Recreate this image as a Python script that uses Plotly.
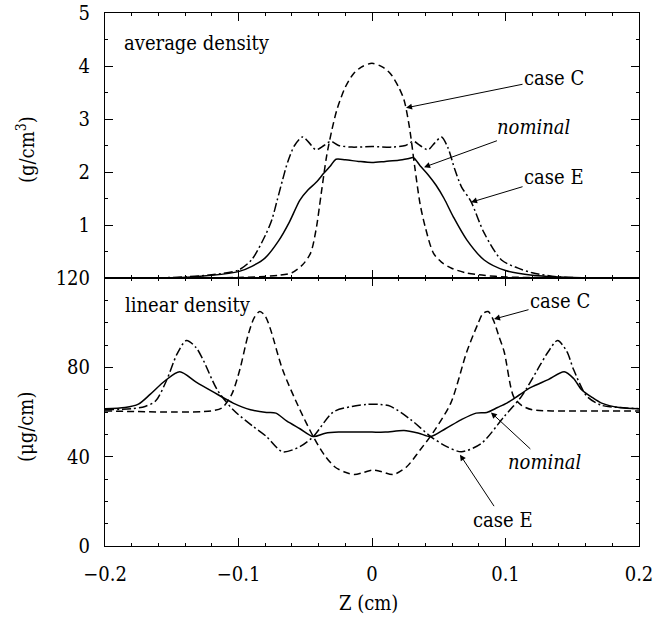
import plotly.graph_objects as go

# ---------------- data ----------------
# top panel: average density (g/cm^3)
avg_C_x = [-0.2, -0.15, -0.1, -0.08, -0.07, -0.06, -0.052, -0.046, -0.042, -0.038, -0.034, -0.03, -0.026, -0.02,
           -0.014, -0.008, 0, 0.008, 0.014, 0.02, 0.024, 0.028, 0.032, 0.036, 0.04, 0.046, 0.052, 0.06, 0.07, 0.08,
           0.1, 0.15, 0.2]
avg_C_y = [0, 0, 0.01, 0.03, 0.05, 0.1, 0.25, 0.47, 0.9, 1.6, 2.3, 2.8, 3.2, 3.6,
           3.85, 3.98, 4.05, 3.98, 3.85, 3.6, 3.36, 2.85, 2.1, 1.4, 0.95, 0.47, 0.3, 0.18, 0.1, 0.06,
           0.02, 0, 0]

avg_nom_x = [-0.2, -0.15, -0.12, -0.1, -0.09, -0.08, -0.07, -0.062, -0.054, -0.048, -0.042, -0.036, -0.031, -0.027,
             -0.02, -0.01, 0, 0.01, 0.02, 0.027, 0.031, 0.036, 0.042, 0.048, 0.054, 0.061, 0.071, 0.084, 0.1, 0.12,
             0.15, 0.2]
avg_nom_y = [0, 0.0, 0.05, 0.12, 0.22, 0.38, 0.7, 1.05, 1.47, 1.66, 1.8, 1.98, 2.12, 2.24,
             2.23, 2.2, 2.18, 2.2, 2.22, 2.25, 2.27, 2.12, 1.95, 1.75, 1.5, 1.15, 0.72, 0.34, 0.14, 0.05,
             0.01, 0]

avg_E_x = [-0.2, -0.15, -0.12, -0.1, -0.09, -0.08, -0.075, -0.071, -0.067, -0.063, -0.058, -0.052, -0.047, -0.042,
           -0.036, -0.031, -0.025, -0.015, 0, 0.015, 0.025, 0.031, 0.036, 0.042, 0.047, 0.052, 0.057, 0.062, 0.067,
           0.074, 0.084, 0.097, 0.109, 0.12, 0.14, 0.2]
avg_E_y = [0, 0.01, 0.06, 0.15, 0.35, 0.8, 1.1, 1.47, 1.85, 2.2, 2.5, 2.66, 2.55, 2.42,
           2.5, 2.58, 2.5, 2.47, 2.48, 2.47, 2.5, 2.58, 2.5, 2.42, 2.55, 2.66, 2.45, 2.05, 1.72,
           1.45, 0.85, 0.34, 0.19, 0.1, 0.02, 0]

# bottom panel: linear density (ug/cm)
lin_nom_x = [-0.2, -0.185, -0.175, -0.166, -0.155, -0.144, -0.132, -0.119, -0.104, -0.091, -0.079, -0.072, -0.064,
             -0.054, -0.044, -0.035, -0.025, -0.01, 0, 0.01, 0.024, 0.035, 0.044, 0.055, 0.067, 0.078, 0.086, 0.094,
             0.101, 0.11, 0.119, 0.132, 0.144, 0.151, 0.157, 0.165, 0.172, 0.185, 0.2]
lin_nom_y = [61.5, 62, 63.5, 68, 74, 78, 73.5, 69, 64, 61, 59.8, 59.5, 56,
             52.5, 49, 50.5, 51, 51, 51, 51, 51.7, 50.5, 49, 52.5, 56.6, 59.5, 59.8, 62,
             64, 67.5, 71, 74.5, 78, 75, 70, 66.5, 64, 62, 61.5]

lin_C_x = [-0.2, -0.15, -0.12, -0.112, -0.105, -0.099, -0.093, -0.088, -0.084, -0.08, -0.076, -0.067, -0.054,
           -0.044, -0.036, -0.028, -0.02, -0.013, -0.006, 0, 0.006, 0.016, 0.026, 0.036, 0.046, 0.059, 0.071,
           0.079, 0.083, 0.087, 0.091, 0.095, 0.099, 0.106, 0.112, 0.12, 0.135, 0.2]
lin_C_y = [60.5, 60, 60.5, 62, 68, 79, 94, 102.5, 105, 103, 97, 79, 61,
           49, 41, 35.5, 33, 32, 33, 34, 33.5, 32, 35.5, 43, 51, 64, 87,
           99, 104, 105, 101, 94, 87, 67, 63, 61, 60.5, 60.5]

lin_E_x = [-0.2, -0.18, -0.17, -0.162, -0.154, -0.146, -0.139, -0.132, -0.127, -0.116, -0.104, -0.089, -0.079,
           -0.067, -0.054, -0.044, -0.029, -0.015, -0.004, 0.006, 0.014, 0.029, 0.044, 0.056, 0.067, 0.082,
           0.099, 0.112, 0.124, 0.132, 0.139, 0.146, 0.151, 0.161, 0.172, 0.185, 0.2]
lin_E_y = [61, 61.5, 62.5, 65, 74, 86, 92, 89, 84, 70, 61, 53.5, 49,
           42.2, 44.5, 49, 60, 62.5, 63.4, 63.4, 62.5, 56.6, 49, 44.5, 42.2, 46,
           58, 67, 79, 87, 92, 87, 79, 67, 63, 62, 61.5]

x_ticks = [-0.2, -0.1, 0, 0.1, 0.2]
x_ticktext = ["\u22120.2", "\u22120.1", "0", "0.1", "0.2"]
top_ticks = [1, 2, 3, 4, 5]
bot_ticks = [0, 40, 80, 120]

# ---------------- styles ----------------
FONT = "'DejaVu Serif Condensed', 'DejaVu Serif', serif"
FS = 20
DASH = "7px,4px"
DASHDOT = "9px,3px,2px,3px"
LW = 1.5

fig = go.Figure()

def add(x, y, dash, xa, ya):
    fig.add_trace(go.Scatter(x=x, y=y, mode="lines", xaxis=xa, yaxis=ya,
                             line=dict(color="black", width=LW, dash=dash, shape="spline", smoothing=0.8),
                             showlegend=False, hoverinfo="skip"))

add(avg_C_x, avg_C_y, DASH, "x2", "y2")
add(avg_E_x, avg_E_y, DASHDOT, "x2", "y2")
add(avg_nom_x, avg_nom_y, "solid", "x2", "y2")
add(lin_C_x, lin_C_y, DASH, "x", "y")
add(lin_E_x, lin_E_y, DASHDOT, "x", "y")
add(lin_nom_x, lin_nom_y, "solid", "x", "y")

split = (546 - 278) / 533.0

axis_common = dict(showline=True, linecolor="black", linewidth=1, mirror="ticks",
                   ticks="inside", tickcolor="black", ticklen=8, tickwidth=1,
                   showgrid=False, zeroline=False, automargin=False,
                   tickfont=dict(family=FONT, size=FS, color="black"))

fig.update_layout(
    width=668, height=619,
    margin=dict(l=105, r=29, t=13, b=73, autoexpand=False),
    paper_bgcolor="white", plot_bgcolor="white",
    font=dict(family=FONT, size=FS, color="black"),
    xaxis=dict(**axis_common, domain=[0, 1], range=[-0.2, 0.2], anchor="y",
               tickvals=x_ticks, ticktext=x_ticktext, ticklabelstandoff=10,
               minor=dict(ticks="inside", ticklen=3, dtick=0.02, tick0=0, tickcolor="black")),
    xaxis2=dict(**axis_common, domain=[0, 1], range=[-0.2, 0.2], anchor="y2", matches="x",
                tickvals=x_ticks, showticklabels=False,
                minor=dict(ticks="inside", ticklen=3, dtick=0.02, tick0=0, tickcolor="black")),
    yaxis=dict(**axis_common, domain=[0, split], range=[0, 120], anchor="x",
               tickvals=bot_ticks, ticklabelstandoff=10,
               minor=dict(ticks="inside", ticklen=3, dtick=10, tick0=0, tickcolor="black")),
    yaxis2=dict(**axis_common, domain=[split, 1], range=[0, 5], anchor="x2",
                tickvals=top_ticks, ticklabelstandoff=10,
                minor=dict(ticks="inside", ticklen=3, dtick=0.5, tick0=0, tickcolor="black")),
)

def ann_text(text, x, y, xanchor="left", angle=0):
    fig.add_annotation(text=text, xref="paper", yref="paper", x=x, y=y, xanchor=xanchor,
                       yanchor="middle", showarrow=False, textangle=angle,
                       font=dict(family=FONT, size=FS, color="black"))

ann_text("average density", (122 - 105) / 534, (546 - 43) / 533)
ann_text("linear density", (123 - 105) / 534, (546 - 305) / 533)
ann_text("(g/cm<sup>3</sup>)", (26 - 105) / 534, (546 - 150) / 533, xanchor="center", angle=-90)
ann_text("(\u03bcg/cm)", (26 - 105) / 534, (546 - 427) / 533, xanchor="center", angle=-90)
ann_text("Z (cm)", (368 - 105) / 534, (546 - 603) / 533, xanchor="center")

def ann_arrow(text, x, y, ax, ay, xr, yr):
    fig.add_annotation(text=text, x=x, y=y, xref=xr, yref=yr, ax=ax, ay=ay,
                       showarrow=True, arrowhead=2, arrowsize=1.2, arrowwidth=1, arrowcolor="black",
                       font=dict(family=FONT, size=FS, color="black"))

ann_arrow("case C", 0.0255, 3.21, 148, -30, "x2", "y2")
ann_arrow("<i>nominal</i>", 0.039, 2.09, 110, -40, "x2", "y2")
ann_arrow("case E", 0.0742, 1.43, 83, -25, "x2", "y2")
ann_arrow("case C", 0.0914, 101.6, 66, -18, "x", "y")
ann_arrow("<i>nominal</i>", 0.0891, 59.8, 54, 50, "x", "y")
ann_arrow("case E", 0.0659, 40.9, 43, 65, "x", "y")

fig.write_html("out.html")
